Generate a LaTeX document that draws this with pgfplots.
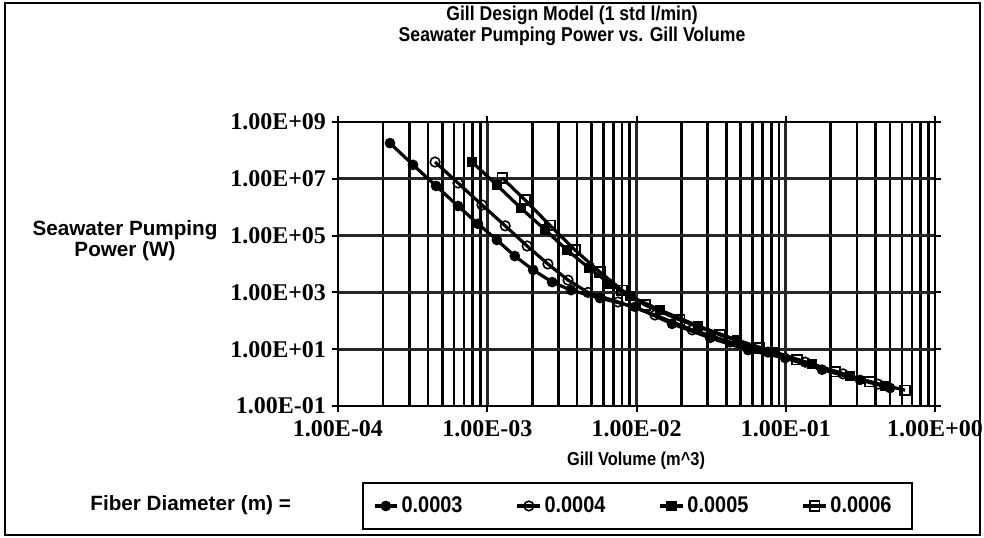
\documentclass[border=0pt]{standalone}
\usepackage{pgfplots}
\pgfplotsset{compat=1.18}
\usepackage{fontspec}
\setmainfont{Liberation Serif}
\newfontfamily\narrowsans[FakeStretch=0.88]{Liberation Sans}
\newfontfamily\boldsans{Liberation Sans}
\begin{document}
\begin{tikzpicture}
\path[use as bounding box] (0pt,0pt) rectangle (738pt,403.5pt);
\draw[line width=1.2pt] (3.75pt,2.25pt) rectangle (735pt,401.25pt);
\node[align=center, font=\narrowsans\bfseries\fontsize{15}{15.5}\selectfont] at (429pt,384pt)
  {Gill Design Model (1 std l/min)\\Seawater Pumping Power vs. Gill Volume};
\node[align=center, font=\boldsans\bfseries\fontsize{15.5}{13}\selectfont] at (93.75pt,222.75pt)
  {Seawater Pumping\\Power (W)};
\node[font=\narrowsans\bfseries\fontsize{14}{15}\selectfont] at (477pt,58pt) {Gill Volume (m\string^3)};
\node[font=\boldsans\bfseries\fontsize{15.5}{15}\selectfont] at (143pt,24.75pt) {Fiber Diameter (m) =};
\draw[line width=1.4pt] (272.25pt,6.75pt) rectangle (684pt,41.25pt);
\begin{axis}[
  at={(253.5pt,99pt)}, anchor=south west,
  scale only axis, width=447.75pt, height=213pt,
  xmode=log, ymode=log,
  xmin=1e-4, xmax=1, ymin=1e-1, ymax=1e9,
  xtick={1e-4,1e-3,1e-2,1e-1,1},
  xticklabels={1.00E-04,1.00E-03,1.00E-02,1.00E-01,1.00E+00},
  ytick={1e-1,1e1,1e3,1e5,1e7,1e9},
  yticklabels={1.00E-01,1.00E+01,1.00E+03,1.00E+05,1.00E+07,1.00E+09},
  yminorticks=false,
  xmajorgrids, xminorgrids, ymajorgrids,
  major grid style={black!85, line width=2pt},
  minor grid style={black, line width=2pt},
  axis line style={black, line width=2pt},
  tick align=outside, major tick length=4.5pt, minor tick length=0pt,
  tick style={black, line width=1.5pt},
  tick label style={font=\bfseries\fontsize{18}{20}\selectfont},
  xticklabel style={yshift=-3pt},
  yticklabel style={xshift=-1pt},
  clip=false,
  legend columns=4,
  legend style={at={(0.495,-0.352)}, anchor=center, draw=none, fill=none,
    font=\narrowsans\bfseries\fontsize{17}{18}\selectfont,
    /tikz/every even column/.append style={column sep=38pt}},
  every axis plot/.append style={black, line width=2.4pt},
]
\addplot[mark=*, mark size=3.6pt, mark options={fill=black, line width=0.8pt}] coordinates {
(2.23e-4,1.8e8) (3.18e-4,3.1e7) (4.54e-4,5.6e6) (6.37e-4,1.1e6) (8.67e-4,2.6e5)
(1.16e-3,7.0e4) (1.53e-3,1.9e4) (2.03e-3,6.2e3) (2.72e-3,2.3e3) (3.64e-3,1.2e3)
(5.69e-3,630) (9.77e-3,310) (1.73e-2,78) (3.11e-2,25) (5.59e-2,9.3) (9.9e-2,4.9)
(0.175,1.9) (0.314,0.83) (0.50,0.43)};
\addlegendentry{0.0003}
\addplot[mark=o, mark size=3.6pt, mark options={fill=white, line width=1.2pt}] coordinates {
(4.47e-4,3.9e7) (6.37e-4,7.1e6) (9.22e-4,1.2e6) (1.32e-3,2.2e5) (1.85e-3,4.3e4)
(2.55e-3,1.0e4) (3.48e-3,2.7e3) (4.73e-3,1.0e3) (7.52e-3,460) (1.33e-2,160)
(2.36e-2,48) (4.23e-2,18) (7.60e-2,7.9) (0.135,3.5) (0.242,1.35) (0.415,0.59)};
\addlegendentry{0.0004}
\addplot[mark=square*, mark size=3.6pt, mark options={fill=black, line width=0.8pt}] coordinates {
(7.91e-4,3.9e7) (1.16e-3,6.0e6) (1.68e-3,9.3e5) (2.44e-3,1.6e5) (3.42e-3,3.1e4)
(4.81e-3,7.2e3) (6.64e-3,2.0e3) (9.04e-3,740) (1.44e-2,240) (2.58e-2,66)
(4.71e-2,21) (8.47e-2,7.9) (0.150,3.0) (0.270,1.15) (0.462,0.50)};
\addlegendentry{0.0005}
\addplot[mark=square, mark size=3.6pt, mark options={fill=white, line width=1.2pt}] coordinates {
(1.26e-3,1.07e7) (1.79e-3,1.8e6) (2.63e-3,2.3e5) (3.87e-3,3.1e4) (5.69e-3,5.2e3)
(8.0e-3,1.2e3) (1.14e-2,360) (1.95e-2,107) (3.62e-2,32) (6.71e-2,11)
(0.119,4.2) (0.214,1.6) (0.367,0.71) (0.63,0.36)};
\addlegendentry{0.0006}
\end{axis}
\end{tikzpicture}
\end{document}
